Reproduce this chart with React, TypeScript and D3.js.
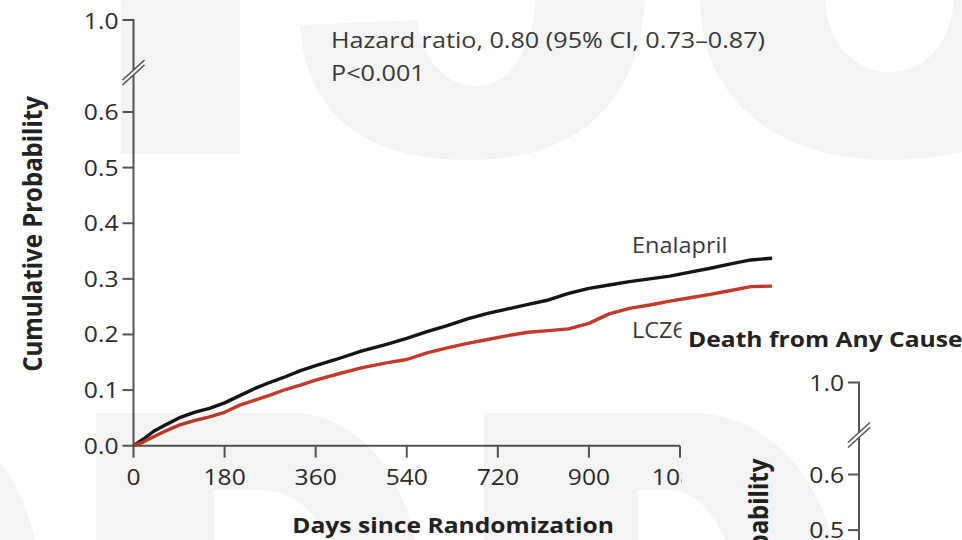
import React, { useEffect, useRef } from 'react';
import * as d3 from 'd3';

// Kaplan-Meier curves (days since randomization, cumulative probability)
const days = [0, 20, 40, 60, 90, 120, 150, 180, 210, 240, 270, 300, 330, 360, 400, 450, 500, 540, 580, 620, 660, 700, 740, 780, 820, 860, 900, 940, 980, 1020, 1060, 1100, 1140, 1180, 1220, 1262];
const enalapril = [0, 0.012, 0.026, 0.036, 0.05, 0.06, 0.067, 0.077, 0.09, 0.103, 0.114, 0.124, 0.135, 0.144, 0.155, 0.17, 0.182, 0.193, 0.205, 0.216, 0.228, 0.238, 0.246, 0.254, 0.262, 0.274, 0.283, 0.289, 0.295, 0.3, 0.305, 0.312, 0.319, 0.327, 0.334, 0.337];
const lcz696 = [0, 0.007, 0.016, 0.025, 0.037, 0.045, 0.052, 0.06, 0.073, 0.082, 0.091, 0.101, 0.109, 0.118, 0.128, 0.14, 0.149, 0.155, 0.167, 0.176, 0.184, 0.191, 0.198, 0.204, 0.207, 0.21, 0.22, 0.237, 0.247, 0.253, 0.26, 0.266, 0.272, 0.279, 0.286, 0.287];

const xTicks = [0, 180, 360, 540, 720, 900, 1080];
const yTicks = [0, 0.1, 0.2, 0.3, 0.4, 0.5, 0.6];
const topTick = 1.0;

const hazardText = 'Hazard ratio, 0.80 (95% CI, 0.73–0.87)';
const pText = 'P<0.001';
const seriesNames = ['Enalapril', 'LCZ696'];
const yTitle = 'Cumulative Probability';
const xTitle = 'Days since Randomization';
const nextTitle = 'Death from Any Cause';

const FONT = "'Open Sans', 'Noto Sans', sans-serif";
const SX = 1.12; // the scan is a bit wider than tall, so text is stretched sideways

const App = () => {
  const svgRef = useRef<SVGSVGElement>(null);

  useEffect(() => {
    const svg = d3.select(svgRef.current);
    svg.selectAll('*').remove();

    const x = d3.scaleLinear().domain([0, 1080]).range([133.5, 680]);
    const y = d3.scaleLinear().domain([0, 0.6]).range([445.7, 112]);
    const yTop = 20; // position of the 1.0 tick above the axis break
    const axisColor = '#555';
    const textColor = '#2b2b2b';

    const text = (g, str, tx, ty, opts: any = {}) => {
      const t = g
        .append('text')
        .attr('transform', `translate(${tx},${ty}) scale(${SX},1)${opts.rotate ? ' rotate(-90)' : ''}`)
        .attr('font-family', FONT)
        .attr('font-size', opts.size || 22)
        .attr('font-weight', opts.bold ? 700 : 400)
        .attr('fill', opts.color || textColor)
        .attr('text-anchor', opts.anchor || 'start')
        .text(str);
      return t;
    };

    // one panel of the figure: axes, ticks and titles
    const drawPanel = (g, withCurves) => {
      // y axis with a break between 0.6 and 1.0
      g.append('path')
        .attr('d', `M${x(0) - 11},${yTop}H${x(0)}V70M${x(0)},75V${y(0)}`)
        .attr('fill', 'none')
        .attr('stroke', axisColor)
        .attr('stroke-width', 2);
      [0, 5].forEach((o) => {
        g.append('line')
          .attr('x1', x(0) - 11).attr('y1', 80 + o)
          .attr('x2', x(0) + 11).attr('y2', 60 + o)
          .attr('stroke', axisColor)
          .attr('stroke-width', 1.6);
      });
      text(g, topTick.toFixed(1), x(0) - 15, yTop + 8.5, { anchor: 'end' });

      yTicks.forEach((v) => {
        g.append('line')
          .attr('x1', x(0) - 11).attr('x2', x(0))
          .attr('y1', y(v)).attr('y2', y(v))
          .attr('stroke', axisColor).attr('stroke-width', 2);
        text(g, v.toFixed(1), x(0) - 15, y(v) + 8, { anchor: 'end' });
      });

      // x axis
      g.append('line')
        .attr('x1', x(0)).attr('x2', x(1080))
        .attr('y1', y(0)).attr('y2', y(0))
        .attr('stroke', axisColor).attr('stroke-width', 2);
      xTicks.forEach((d) => {
        g.append('line')
          .attr('x1', x(d)).attr('x2', x(d))
          .attr('y1', y(0)).attr('y2', y(0) + 12)
          .attr('stroke', axisColor).attr('stroke-width', 2);
        text(g, String(d), x(d), 485, { anchor: 'middle' });
      });

      text(g, yTitle, 42, 234, { rotate: true, bold: true, anchor: 'middle', size: 24, color: '#222' });
      text(g, xTitle, 453, 533, { bold: true, anchor: 'middle', size: 22, color: '#222' });

      if (!withCurves) return;

      const line = d3
        .line<number>()
        .x((_, i) => x(days[i]))
        .y((v) => y(v));

      g.append('path')
        .attr('d', line(enalapril))
        .attr('fill', 'none')
        .attr('stroke', '#151515')
        .attr('stroke-width', 3.4)
        .attr('stroke-linejoin', 'round');
      g.append('path')
        .attr('d', line(lcz696))
        .attr('fill', 'none')
        .attr('stroke', '#c23a2b')
        .attr('stroke-width', 3.4)
        .attr('stroke-linejoin', 'round');

      text(g, hazardText, 331, 48, { size: 22.5, color: '#3a3a3a' });
      text(g, pText, 331, 81, { size: 22.5, color: '#3a3a3a' });
      text(g, seriesNames[0], 632, 253, { size: 21, color: '#3a3a3a' });
      text(g, seriesNames[1], 632, 338, { size: 21, color: '#3a3a3a' });
    };

    // main panel
    drawPanel(svg.append('g'), true);

    // the next panel of the figure overlaps the bottom right corner
    const next = svg.append('g');
    next.append('rect').attr('x', 681.5).attr('y', 316).attr('width', 300).attr('height', 240).attr('fill', '#fff');
    text(next, nextTitle, 688, 347, { bold: true, size: 22, color: '#222' });
    drawPanel(next.append('g').attr('transform', 'translate(725.5,362.5)'), false);

    // faint watermark letters over the page
    const marks = [
      'M121,0H240V154H121Z',
      'M300,25C305,110 360,160 470,160C580,160 640,100 645,0H535C533,50 510,86 477,86C445,86 422,60 418,20Z',
      'M700,0C700,100 780,160 885,160C930,160 962,152 962,152V0H954C950,45 925,72 890,72C855,72 828,45 825,0Z',
      'M0,463C15,480 28,510 35,540H0Z',
      'M96,413H300C360,420 400,470 415,540H325C320,520 300,490 260,490H214V540H96Z',
      'M484,413H700C760,418 810,460 833,540H725C715,515 695,490 670,490H638V540H484Z',
    ];
    svg
      .append('g')
      .selectAll('path')
      .data(marks)
      .enter()
      .append('path')
      .attr('d', (d) => d)
      .attr('fill', '#000')
      .attr('fill-opacity', 0.045);
  }, []);

  return (
    <svg
      ref={svgRef}
      width={962}
      height={540}
      style={{ position: 'absolute', left: 0, top: 0, background: '#fff' }}
    ></svg>
  );
};

export default App;
